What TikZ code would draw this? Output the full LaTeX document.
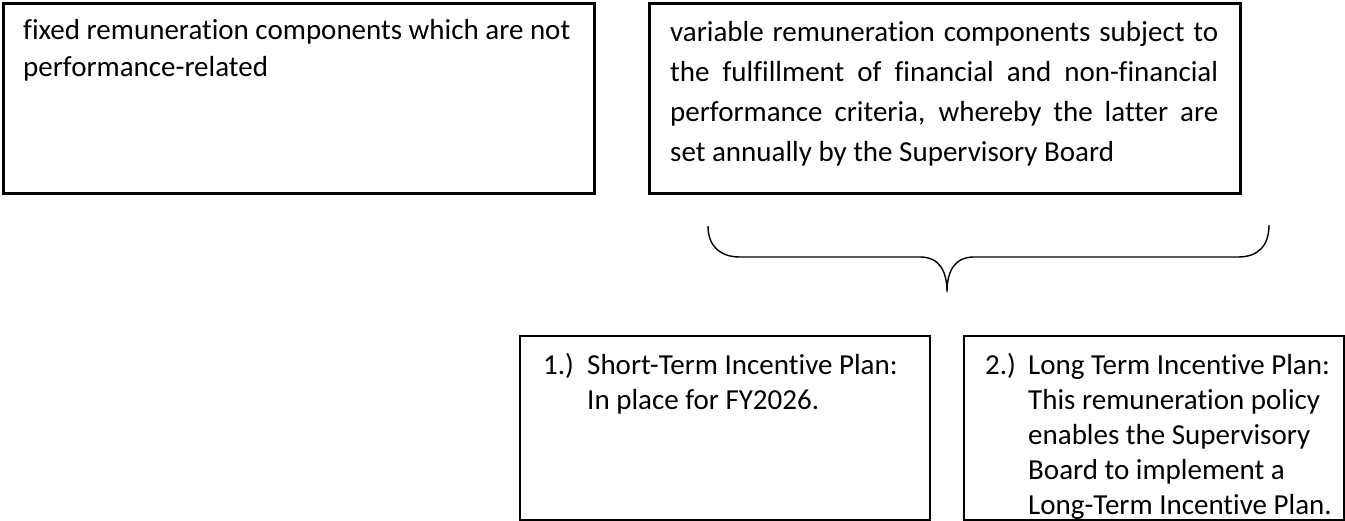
\documentclass[tikz,border=0pt]{standalone}
\usepackage{fontspec}
\setmainfont{Carlito}[Ligatures={NoCommon,NoContextual}]
\begin{document}
\begin{tikzpicture}[x=1pt,y=-1pt,
  topbox/.style={draw=black, line width=2.6pt, rectangle, inner sep=0pt, anchor=north west},
  botbox/.style={draw=black, line width=1.8pt, rectangle, inner sep=0pt, anchor=north west},
  txt/.style={inner sep=0pt, anchor=north west, align=left},
  bigtext/.style={font=\fontsize{29}{37}\selectfont},
  justtext/.style={font=\fontsize{29}{40}\selectfont},
  smalltext/.style={font=\fontsize{29}{35}\selectfont},
  bracestyle/.style={draw=black, line width=1.4pt}]
\useasboundingbox (0,0) rectangle (1345,521);

% boxes
\node[topbox, minimum width=591pt, minimum height=190pt] (fixedbox) at (2,2) {};
\node[topbox, minimum width=591pt, minimum height=190pt] (varbox) at (648,2) {};
\node[botbox, minimum width=410pt, minimum height=184pt] (stibox) at (519,335) {};
\node[botbox, minimum width=380pt, minimum height=184pt] (ltibox) at (963,335) {};

% texts
\node[txt, bigtext] (fixedtext) at (23,16) {\rule{0pt}{23pt}fixed remuneration components which are not\\performance-related};
\node[txt, justtext] (vartext) at (670,18) {\rule{0pt}{23pt}\makebox[548pt][s]{variable remuneration components subject to}\\
\makebox[548pt][s]{the fulfillment of financial and non-financial}\\
\makebox[548pt][s]{performance criteria, whereby the latter are}\\
set annually by the Supervisory Board};

\node[txt, smalltext] (stilabel) at (543,351) {\rule{0pt}{23pt}1.)};
\node[txt, smalltext] (stitext) at (587,351) {\rule{0pt}{23pt}Short-Term Incentive Plan:\\In place for FY2026.};
\node[txt, smalltext] (ltilabel) at (985,351) {\rule{0pt}{23pt}2.)};
\node[txt, smalltext] (ltitext) at (1028,351) {\rule{0pt}{23pt}Long Term Incentive Plan:\\This remuneration policy\\enables the Supervisory\\Board to implement a\\Long-Term Incentive Plan.};

% brace
\coordinate (bl) at (708,226);
\coordinate (br) at (1269,225);
\coordinate (btip) at (947,292);
\draw[bracestyle] (bl) .. controls (708,246) and (720,257) .. (740,257)
  -- (920,257) .. controls (940,257) and (947,272) .. (btip)
  .. controls (947,272) and (954,257) .. (974,257)
  -- (1238,257) .. controls (1258,257) and (1269,246) .. (br);
\end{tikzpicture}
\end{document}
